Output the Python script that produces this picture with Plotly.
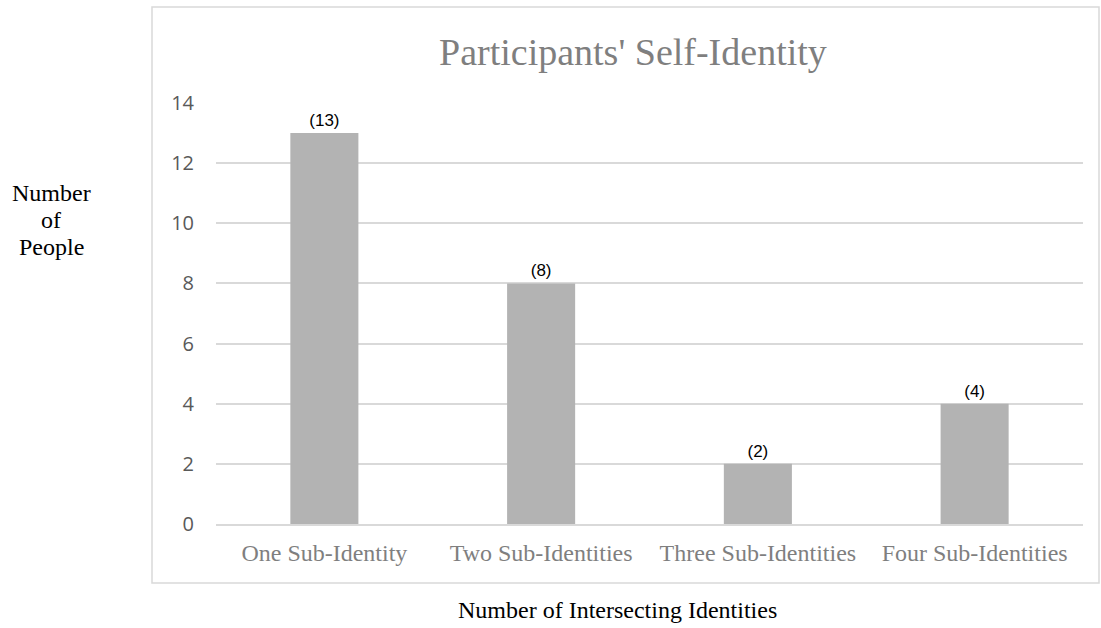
import plotly.graph_objects as go

categories = ["One Sub-Identity", "Two Sub-Identities", "Three Sub-Identities", "Four Sub-Identities"]
people = [13, 8, 2, 4]
bar_labels = ["(13)", "(8)", "(2)", "(4)"]
y_ticks = [0, 2, 4, 6, 8, 10, 12, 14]
y_title_lines = ["Number", "of", "People"]

W, H = 1101, 628
L, R, T, B = 216, 18, 103, 104
pw, ph = W - L - R, H - T - B


def px(x):
    return (x - L) / pw


def py(y):
    return (H - B - y) / ph


serif = "Liberation Serif, Times New Roman"

fig = go.Figure(
    go.Bar(
        x=categories,
        y=people,
        text=bar_labels,
        textposition="outside",
        textfont=dict(family="Liberation Sans, Arial", size=17, color="#000000"),
        marker=dict(color="#b3b3b3", line=dict(width=0)),
        cliponaxis=False,
    )
)

# stacked y-axis title, one annotation per line for tighter spacing
y_title = [
    dict(
        text=line, xref="paper", yref="paper",
        x=px(51), y=py(193 + 27 * i), showarrow=False,
        xanchor="center", yanchor="middle",
        font=dict(family=serif, size=24, color="#000000"),
    )
    for i, line in enumerate(y_title_lines)
]

fig.update_layout(
    width=W,
    height=H,
    margin=dict(l=L, r=R, t=T, b=B),
    paper_bgcolor="white",
    plot_bgcolor="white",
    bargap=0.686,
    showlegend=False,
    xaxis=dict(
        showgrid=False,
        showline=True,
        linecolor="#d9d9d9",
        linewidth=1.5,
        ticks="",
        ticklabelstandoff=6,
        tickfont=dict(family=serif, size=24, color="#7f7f7f"),
    ),
    yaxis=dict(
        range=[0, 14],
        tickvals=y_ticks,
        showgrid=True,
        gridcolor="#d9d9d9",
        gridwidth=1.5,
        zeroline=False,
        ticks="",
        ticklabelstandoff=21,
        tickfont=dict(family="Open Sans, Noto Sans", size=20, color="#595959"),
    ),
    shapes=[
        dict(
            type="rect", xref="paper", yref="paper",
            x0=px(152), x1=px(1099), y0=py(583), y1=py(7),
            line=dict(color="#d9d9d9", width=1.5),
            fillcolor="rgba(0,0,0,0)", layer="below",
        )
    ],
    annotations=[
        dict(
            text="Participants' Self-Identity", xref="paper", yref="paper",
            x=px(633), y=py(52), showarrow=False, xanchor="center", yanchor="middle",
            font=dict(family=serif, size=38, color="#7f7f7f"),
        ),
        dict(
            text="Number of Intersecting Identities", xref="paper", yref="paper",
            x=px(617), y=py(610), showarrow=False, xanchor="center", yanchor="middle",
            font=dict(family=serif, size=24, color="#000000"),
        ),
    ] + y_title,
)

fig.write_html("out.html")
